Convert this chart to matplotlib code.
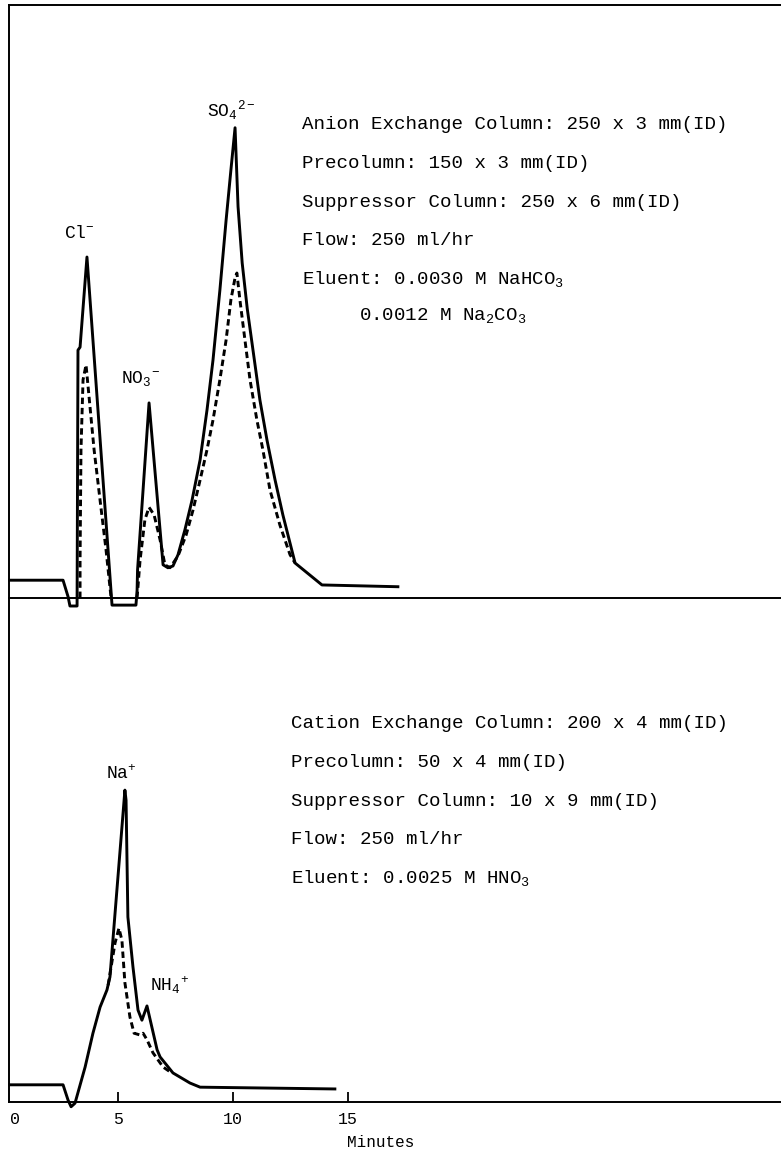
import matplotlib
matplotlib.use('Agg')
import matplotlib.pyplot as plt

plt.rcParams['font.family'] = ['Liberation Mono', 'DejaVu Sans Mono']
plt.rcParams['mathtext.fontset'] = 'custom'
plt.rcParams['mathtext.rm'] = 'Liberation Mono'
plt.rcParams['mathtext.it'] = 'Liberation Mono'

# anion run (minutes, relative response), solid = sample, dashed = diluted
anion_t = [0.30, 2.61, 2.83, 2.91, 3.22, 3.26, 3.35, 3.65, 4.74, 5.78, 5.83, 5.85,
           6.35, 6.96, 7.17, 7.39, 7.61, 7.91, 8.22, 8.57, 8.87, 9.13, 9.43, 9.70,
           9.91, 10.09, 10.22, 10.40, 10.62, 10.87, 11.17, 11.48, 11.83, 12.17,
           12.70, 13.87, 17.17]
anion_v = [3.0, 3.0, 0.2, -1.35, -1.35, 41.8, 42.3, 57.5, -1.2, -1.2, 1.3, 4.7,
           32.9, 5.6, 5.1, 5.4, 7.3, 11.5, 16.5, 23.3, 31.7, 40.1, 51.9, 63.7,
           72.2, 79.3, 66.0, 56.5, 48.8, 41.8, 33.4, 26.6, 19.9, 14.0,
           5.9, 2.2, 1.9]

anion_cl_t = [3.35, 3.35, 3.39, 3.48, 3.61, 3.70, 3.96, 4.22, 4.48, 4.70]
anion_cl_v = [0, 6.4, 25.0, 36.8, 39.3, 35.6, 25.0, 16.5, 8.1, 0]

anion_dil_t = [5.83, 5.96, 6.17, 6.35, 6.57, 6.83, 7.04, 7.26, 7.61, 7.96, 8.26,
               8.57, 8.87, 9.13, 9.43, 9.70, 9.91, 10.09, 10.17, 10.30, 10.52,
               10.74, 11.04, 11.30, 11.61, 12.04, 12.48, 12.70]
anion_dil_v = [0, 6.4, 13.2, 15.3, 14.0, 9.8, 5.6, 5.1, 7.1, 10.6, 14.8,
               19.9, 25.0, 30.0, 36.8, 43.5, 50.3, 54.0, 54.8, 50.3, 43.5,
               36.8, 30.0, 25.0, 18.2, 12.3, 7.3, 5.9]

# cation run
cation_t = [0.30, 2.61, 2.83, 2.96, 3.13, 3.57, 3.91, 4.22, 4.52, 4.65, 5.30,
            5.35, 5.43, 5.65, 5.87, 6.04, 6.26, 6.48, 6.70, 6.83, 7.39, 8.13,
            8.57, 14.43]
cation_v = [2.9, 2.9, 0.3, -0.8, -0.2, 5.9, 11.6, 16.0, 18.9, 21.1, 52.6,
            50.9, 31.2, 22.8, 15.5, 13.8, 16.2, 12.5, 8.8, 7.6, 4.9, 3.2,
            2.5, 2.2]

cation_dil_t = [4.57, 4.87, 5.04, 5.17, 5.30, 5.52, 5.70, 5.96, 6.09, 6.26,
                6.52, 6.96, 7.26]
cation_dil_v = [19.7, 26.8, 29.3, 27.3, 20.1, 14.3, 11.6, 11.3, 11.6, 10.5,
                8.3, 5.9, 5.1]

tick_min = [0.52, 5, 10, 15]
tick_lab = ['0', '5', '10', '15']

anion_notes = ['Anion Exchange Column: 250 x 3 mm(ID)',
               'Precolumn: 150 x 3 mm(ID)',
               'Suppressor Column: 250 x 6 mm(ID)',
               'Flow: 250 ml/hr',
               r'Eluent: 0.0030 M NaHCO$_3$']
cation_notes = ['Cation Exchange Column: 200 x 4 mm(ID)',
                'Precolumn: 50 x 4 mm(ID)',
                'Suppressor Column: 10 x 9 mm(ID)',
                'Flow: 250 ml/hr',
                r'Eluent: 0.0025 M HNO$_3$']

W, H = 781, 1153
fig = plt.figure(figsize=(W / 100, H / 100), dpi=100)


def fx(px):
    return px / W


def fy(py):
    return 1 - py / H


ax1 = fig.add_axes([fx(9), fy(598), 1 - fx(9), 593 / H])
ax2 = fig.add_axes([fx(9), fy(1102), 1 - fx(9), 504 / H])

dash = (0, (2.2, 1.3))
ax1.plot(anion_t, anion_v, color='black', lw=2.1, clip_on=False)
ax1.plot(anion_cl_t, anion_cl_v, color='black', lw=2.1, ls=dash, clip_on=False)
ax1.plot(anion_dil_t, anion_dil_v, color='black', lw=2.1, ls=dash, clip_on=False)
ax2.plot(cation_t, cation_v, color='black', lw=2.1, clip_on=False)
ax2.plot(cation_dil_t, cation_dil_v, color='black', lw=2.1, ls=dash, clip_on=False)

for ax in (ax1, ax2):
    ax.set_xlim(0.26, 33.83)
    ax.patch.set_alpha(0)
    ax.spines['right'].set_visible(False)
    ax.spines['left'].set_linewidth(1.4)
    ax.spines['bottom'].set_linewidth(1.4)
ax1.set_ylim(0, 100)
ax2.set_ylim(0, 85)
ax1.spines['top'].set_linewidth(1.4)
ax2.spines['top'].set_visible(False)
ax1.set_xticks([])
ax1.set_yticks([])
ax2.set_yticks([])
ax2.set_xticks(tick_min, tick_lab)
ax2.tick_params(axis='x', direction='in', length=7, width=1.3, pad=7, labelsize=12)
ax2.xaxis.get_major_ticks()[0].tick1line.set_visible(False)
fig.text(fx(347), fy(1147), 'Minutes', fontsize=11.5, ha='left', va='baseline')

# peak labels
lab = dict(fontsize=13, ha='left', va='baseline')
fig.text(fx(207), fy(116), r'$\mathregular{SO_4{}^{2-}}$', **lab)
fig.text(fx(64), fy(238), r'$\mathregular{Cl^{-}}$', **lab)
fig.text(fx(121), fy(383), r'$\mathregular{NO_3{}^{-}}$', **lab)
fig.text(fx(106), fy(779), r'$\mathregular{Na^{+}}$', **lab)
fig.text(fx(150), fy(991), r'$\mathregular{NH_4{}^{+}}$', **lab)

note = dict(fontsize=13.8, ha='left', va='baseline')
for i, s in enumerate(anion_notes):
    fig.text(fx(302), fy(129 + 38.8 * i), s, **note)
fig.text(fx(359), fy(320), r'0.0012 M Na$_2$CO$_3$', **note)
for i, s in enumerate(cation_notes):
    fig.text(fx(291), fy(728 + 38.8 * i), s, **note)

fig.savefig('out.png', dpi=100)
